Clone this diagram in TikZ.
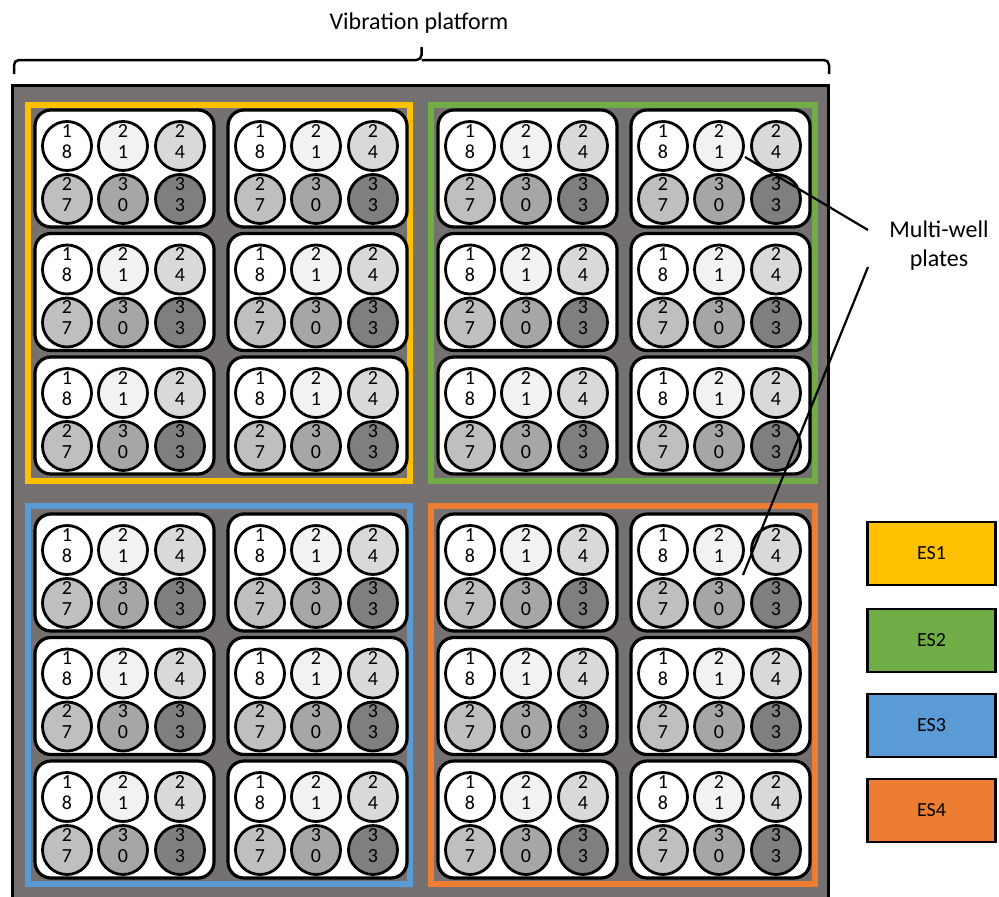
\documentclass[tikz,border=0pt]{standalone}
\usepackage{fontspec}
\setmainfont{Carlito}
\usetikzlibrary{calc}
\definecolor{platgrey}{HTML}{767171}
\definecolor{esone}{HTML}{FFC000}
\definecolor{estwo}{HTML}{70AD47}
\definecolor{esthree}{HTML}{5B9BD5}
\definecolor{esfour}{HTML}{ED7D31}
\definecolor{wone}{HTML}{FFFFFF}
\definecolor{wtwo}{HTML}{F2F2F2}
\definecolor{wthree}{HTML}{D9D9D9}
\definecolor{wfour}{HTML}{BFBFBF}
\definecolor{wfive}{HTML}{A6A6A6}
\definecolor{wsix}{HTML}{7F7F7F}
\begin{document}
\begin{tikzpicture}[x=1pt,y=-1pt,
  plate/.style={draw=black, line width=3.2pt, fill=white, rounded corners=16pt,
    minimum width=179pt, minimum height=117pt, inner sep=0pt},
  well/.style={circle, draw=black, line width=2.8pt, minimum size=49pt, inner sep=0pt,
    align=center, text depth=9pt, font=\fontsize{20}{21}\selectfont},
  esframe/.style={line width=6pt},
  legendbox/.style={draw=black, line width=2.5pt, minimum width=128pt, minimum height=63pt,
    font=\fontsize{20}{22}\selectfont},
  pointer/.style={draw=black, line width=2.2pt},
  bigtext/.style={font=\fontsize{24}{29}\selectfont}
]
\useasboundingbox (0,0) rectangle (999,897);

% vibration platform
\fill[platgrey] (12,85) rectangle (828,897);
\draw[line width=3pt] (12,897) -- (12,85) -- (828,85) -- (828,897);

% experimental set frames
\draw[esframe, draw=esone]   (28,105) rectangle (410,481);
\draw[esframe, draw=estwo]   (431,105) rectangle (815,481);
\draw[esframe, draw=esthree] (28,506) rectangle (410,884);
\draw[esframe, draw=esfour]  (431,506) rectangle (815,884);

% multi-well plates with six wells each
\foreach \q/\qx/\qy in {1/25/110, 2/428/110, 3/25/514, 4/428/514} {
  \foreach \r in {0,1,2} {
    \foreach \c in {0,1} {
      \pgfmathsetmacro{\px}{\qx+10+193*\c}
      \pgfmathsetmacro{\py}{\qy+123.5*\r}
      \node[plate] (p\q\r\c) at (\px+89.5,\py+58.5) {};
      \foreach \i/\dx/\dy/\col/\ta/\tb in {1/32/36/wone/1/8, 2/88/36/wtwo/2/1,
          3/145/36/wthree/2/4, 4/32/89/wfour/2/7, 5/88/89/wfive/3/0, 6/145/89/wsix/3/3} {
        \node[well, fill=\col] (w\q\r\c\i) at (\px+\dx,\py+\dy) {\ta\\\tb};
      }
    }
  }
}

% title and brace
\node[bigtext, anchor=base] (title) at (419,29) {Vibration platform};
\coordinate (bl) at (14,74);
\coordinate (br) at (829,74);
\coordinate (btip) at (421.5,47);
\draw[line width=2.5pt, rounded corners=5pt] (bl) |- (btip |- 0,60) -- (btip);
\draw[line width=2.5pt, rounded corners=5pt] (br) |- (btip |- 0,60);

% label for the plates
\node[bigtext, align=center] (mwp) at (939,246) {Multi-well\\plates};
\coordinate (la) at (868,230);
\coordinate (lb) at (868,267);
\coordinate (tipa) at (745,157);
\coordinate (tipb) at (743,575);
\draw[pointer] (tipa) -- (la);
\draw[pointer] (lb) -- (tipb);

% legend
\node[legendbox, fill=esone]   (es1) at (931.5,553.5) {ES1};
\node[legendbox, fill=estwo]   (es2) at (931.5,640.5) {ES2};
\node[legendbox, fill=esthree] (es3) at (931.5,725.5) {ES3};
\node[legendbox, fill=esfour]  (es4) at (931.5,810.5) {ES4};
\end{tikzpicture}
\end{document}
